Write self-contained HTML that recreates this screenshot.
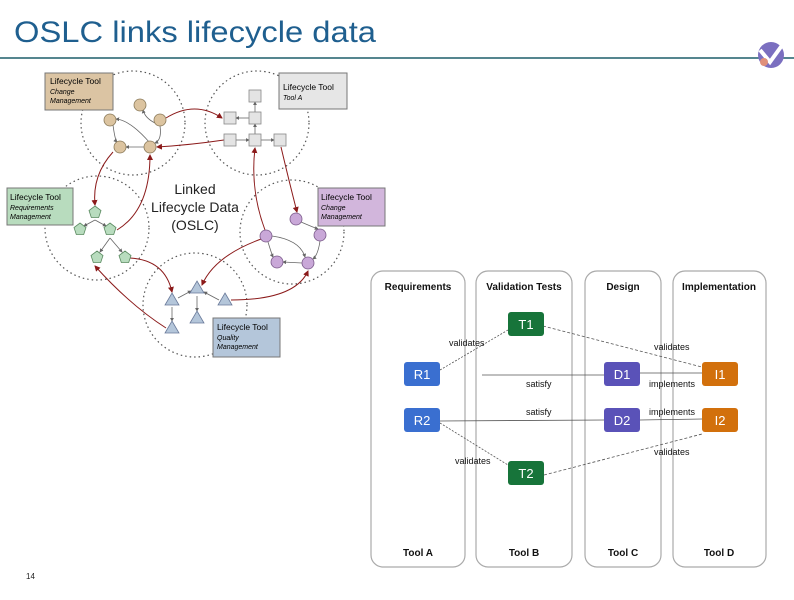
<!DOCTYPE html>
<html><head><meta charset="utf-8"><style>
body{margin:0;width:794px;height:595px;background:#fff;overflow:hidden;font-family:"Liberation Sans",sans-serif}
</style></head><body>
<svg width="794" height="595" viewBox="0 0 794 595" xmlns="http://www.w3.org/2000/svg" font-family="Liberation Sans, sans-serif">
<defs>
<marker id="ar" markerWidth="6" markerHeight="6" refX="5" refY="3" orient="auto"><path d="M0,0L6,3L0,6z" fill="#8b1a1a"/></marker>
<marker id="ag" markerWidth="5" markerHeight="5" refX="4" refY="2.5" orient="auto"><path d="M0,0L5,2.5L0,5z" fill="#666"/></marker>
</defs>
<text x="14" y="42" font-size="30" fill="#1f5f8f" textLength="362" lengthAdjust="spacingAndGlyphs">OSLC links lifecycle data</text>
<line x1="0" y1="58" x2="794" y2="58" stroke="#1d5f6a" stroke-width="1.5"/>
<circle cx="771" cy="55" r="13" fill="#7b6fc0"/>
<path d="M760,50 L770,62 L783,44" stroke="#fff" stroke-width="4" fill="none"/>
<circle cx="764" cy="62" r="4" fill="#e0907a"/>

<g fill="none" stroke="#555" stroke-width="1.2" stroke-dasharray="1.5,3">
<circle cx="133" cy="123" r="52"/><circle cx="257" cy="123" r="52"/>
<circle cx="97" cy="228" r="52"/><circle cx="292" cy="232" r="52"/>
<circle cx="195" cy="305" r="52"/>
</g>
<g font-size="8.5">
<rect x="45" y="73" width="68" height="37" fill="#dbc4a3" stroke="#777"/>
<text x="50" y="84">Lifecycle Tool</text><text x="50" y="94" font-style="italic" font-size="7">Change</text><text x="50" y="103" font-style="italic" font-size="7">Management</text>
<rect x="279" y="73" width="68" height="36" fill="#e6e6e6" stroke="#777"/>
<text x="283" y="90">Lifecycle Tool</text><text x="283" y="100" font-style="italic" font-size="7">Tool A</text>
<rect x="7" y="188" width="66" height="37" fill="#b8dcbe" stroke="#777"/>
<text x="10" y="200">Lifecycle Tool</text><text x="10" y="210" font-style="italic" font-size="7">Requirements</text><text x="10" y="219" font-style="italic" font-size="7">Management</text>
<rect x="318" y="188" width="67" height="38" fill="#d2b6dc" stroke="#777"/>
<text x="321" y="200">Lifecycle Tool</text><text x="321" y="210" font-style="italic" font-size="7">Change</text><text x="321" y="219" font-style="italic" font-size="7">Management</text>
<rect x="213" y="318" width="67" height="39" fill="#b4c6da" stroke="#777"/>
<text x="217" y="330">Lifecycle Tool</text><text x="217" y="340" font-style="italic" font-size="7">Quality</text><text x="217" y="349" font-style="italic" font-size="7">Management</text>
</g>
<text x="195" y="194" font-size="14" text-anchor="middle" fill="#222">Linked</text>
<text x="195" y="212" font-size="14" text-anchor="middle" fill="#222">Lifecycle Data</text>
<text x="195" y="230" font-size="14" text-anchor="middle" fill="#222">(OSLC)</text>

<g stroke="#8b1a1a" stroke-width="1" fill="none" marker-end="url(#ar)">
<path d="M166,118 Q195,100 222,118"/>
<path d="M224,140 Q190,145 157,147"/>
<path d="M113,152 Q92,175 95,205"/>
<path d="M117,230 Q150,210 150,155"/>
<path d="M130,258 Q165,260 172,292"/>
<path d="M166,328 Q130,305 95,266"/>
<path d="M264,238 Q215,255 202,285"/>
<path d="M231,300 Q295,300 308,271"/>
<path d="M265,230 Q250,190 255,148"/>
<path d="M281,147 Q290,185 297,212"/>
</g>
<g stroke="#666" stroke-width="0.8" fill="none" marker-end="url(#ag)">
<path d="M155,123 Q145,118 143,110"/><path d="M160,126 Q162,140 155,143"/>
<path d="M146,147 L126,147"/><path d="M113,125 Q115,140 117,142"/>
<path d="M150,143 Q130,120 116,119"/>
<path d="M255,112 L255,102"/><path d="M249,118 L236,118"/><path d="M255,134 L255,124"/>
<path d="M236,140 L249,140"/><path d="M261,140 L274,140"/>
<path d="M95,220 L84,226"/><path d="M95,220 L106,226"/><path d="M110,238 L100,252"/><path d="M110,238 L122,252"/>
<path d="M301,222 Q315,228 318,229"/><path d="M320,241 Q318,255 313,259"/>
<path d="M302,263 L283,262"/><path d="M268,242 Q272,255 273,257"/><path d="M272,236 Q300,240 305,257"/>
<path d="M178,298 L191,291"/><path d="M197,296 L197,311"/><path d="M219,300 L204,292"/><path d="M172,307 L172,321"/>
</g>
<g stroke="#8a7a5a" fill="#dcc4a0" stroke-width="0.8">
<circle cx="140" cy="105" r="6"/><circle cx="160" cy="120" r="6"/><circle cx="110" cy="120" r="6"/><circle cx="120" cy="147" r="6"/><circle cx="150" cy="147" r="6"/>
</g>
<g stroke="#888" fill="#e4e4e4" stroke-width="0.8">
<rect x="249" y="90" width="12" height="12"/><rect x="249" y="112" width="12" height="12"/><rect x="224" y="112" width="12" height="12"/>
<rect x="224" y="134" width="12" height="12"/><rect x="249" y="134" width="12" height="12"/><rect x="274" y="134" width="12" height="12"/>
</g>
<g stroke="#5a8a60" fill="#b8dcbe" stroke-width="0.8">
<path d="M95,206 l6,4.5 -2.3,7 h-7.4 l-2.3,-7z"/><path d="M80,223 l6,4.5 -2.3,7 h-7.4 l-2.3,-7z"/>
<path d="M110,223 l6,4.5 -2.3,7 h-7.4 l-2.3,-7z"/><path d="M97,251 l6,4.5 -2.3,7 h-7.4 l-2.3,-7z"/>
<path d="M125,251 l6,4.5 -2.3,7 h-7.4 l-2.3,-7z"/>
</g>
<g stroke="#7a5a8a" fill="#c9a8d8" stroke-width="0.8">
<circle cx="296" cy="219" r="6"/><circle cx="320" cy="235" r="6"/><circle cx="266" cy="236" r="6"/><circle cx="277" cy="262" r="6"/><circle cx="308" cy="263" r="6"/>
</g>
<g stroke="#6a7a9a" fill="#b4c6da" stroke-width="0.8">
<path d="M172,293 l7,12 h-14z"/><path d="M197,281 l7,12 h-14z"/><path d="M225,293 l7,12 h-14z"/><path d="M197,311 l7,12 h-14z"/><path d="M172,321 l7,12 h-14z"/>
</g>

<g fill="#fff" stroke="#aaa" stroke-width="1.2">
<rect x="371" y="271" width="94" height="296" rx="12"/>
<rect x="476" y="271" width="96" height="296" rx="12"/>
<rect x="585" y="271" width="76" height="296" rx="12"/>
<rect x="673" y="271" width="93" height="296" rx="12"/>
</g>
<g font-size="10" font-weight="bold" text-anchor="middle" fill="#111">
<text x="418" y="290">Requirements</text><text x="524" y="290">Validation Tests</text><text x="623" y="290">Design</text><text x="719" y="290">Implementation</text>
<text x="418" y="556">Tool A</text><text x="524" y="556">Tool B</text><text x="623" y="556">Tool C</text><text x="719" y="556">Tool D</text>
</g>
<g stroke="#555" stroke-width="0.8" fill="none">
<path d="M440,370 L508,330" stroke-dasharray="2,1.5"/>
<path d="M543,326 L702,367" stroke-dasharray="3,2"/>
<path d="M482,375 L604,375"/><path d="M640,373 L702,373"/>
<path d="M440,421 L604,420"/><path d="M640,420 L702,419"/>
<path d="M440,423 L508,465" stroke-dasharray="2,1.5"/>
<path d="M544,475 L702,434" stroke-dasharray="3,2"/>
</g>
<g font-size="9" fill="#111">
<text x="449" y="346">validates</text><text x="654" y="350">validates</text>
<text x="526" y="387">satisfy</text><text x="649" y="387">implements</text>
<text x="526" y="415">satisfy</text><text x="649" y="415">implements</text>
<text x="455" y="464">validates</text><text x="654" y="455">validates</text>
</g>
<g font-size="13" fill="#fff" text-anchor="middle">
<rect x="508" y="312" width="36" height="24" rx="3" fill="#17743a"/><text x="526" y="329">T1</text>
<rect x="404" y="362" width="36" height="24" rx="3" fill="#3a6fd0"/><text x="422" y="379">R1</text>
<rect x="604" y="362" width="36" height="24" rx="3" fill="#5a52b8"/><text x="622" y="379">D1</text>
<rect x="702" y="362" width="36" height="24" rx="3" fill="#d2700c"/><text x="720" y="379">I1</text>
<rect x="404" y="408" width="36" height="24" rx="3" fill="#3a6fd0"/><text x="422" y="425">R2</text>
<rect x="604" y="408" width="36" height="24" rx="3" fill="#5a52b8"/><text x="622" y="425">D2</text>
<rect x="702" y="408" width="36" height="24" rx="3" fill="#d2700c"/><text x="720" y="425">I2</text>
<rect x="508" y="461" width="36" height="24" rx="3" fill="#17743a"/><text x="526" y="478">T2</text>
</g>
<text x="26" y="579" font-size="8" fill="#222">14</text>
</svg>
</body></html>
